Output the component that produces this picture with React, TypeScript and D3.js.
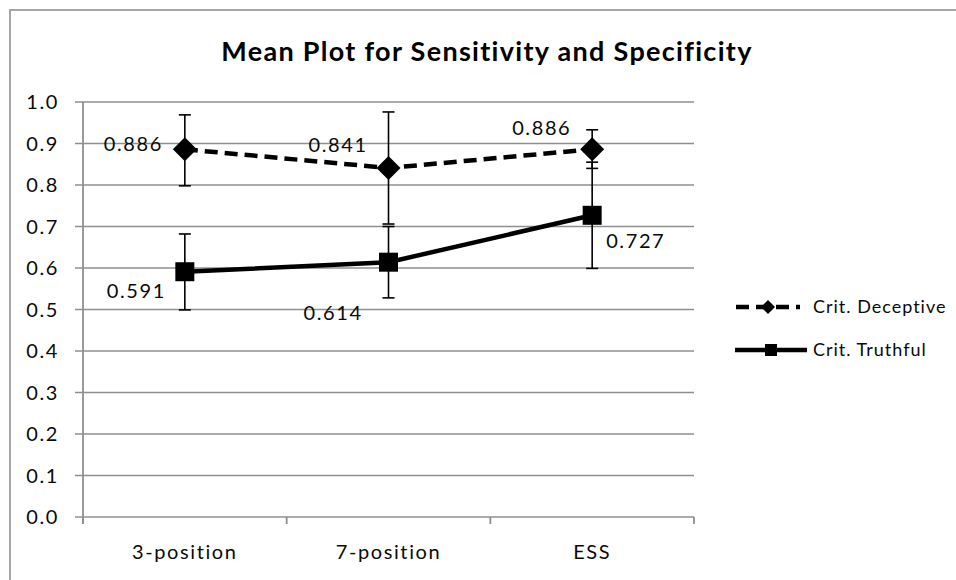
import React from "react";
import * as d3 from "d3";

const categories = ["3-position", "7-position", "ESS"];
const deceptiveMean = [0.886, 0.841, 0.886];
const deceptiveUpper = [0.969, 0.976, 0.933];
const deceptiveLower = [0.798, 0.706, 0.84];
const truthfulMean = [0.591, 0.614, 0.727];
const truthfulUpper = [0.682, 0.7, 0.855];
const truthfulLower = [0.499, 0.528, 0.599];
const yTicks = [0, 0.1, 0.2, 0.3, 0.4, 0.5, 0.6, 0.7, 0.8, 0.9, 1.0];
const seriesNames = ["Crit. Deceptive", "Crit. Truthful"];
const title = "Mean Plot for Sensitivity and Specificity";

// label offsets (layout only)
const deceptiveLabelOffset: [number, number][] = [[-81, 2], [-80, -16], [-80, -14]];
const truthfulLabelOffset: [number, number][] = [[-78, 26], [-85, 58], [14, 33]];

const W = 956;
const H = 580;
const plot = { left: 83, right: 694, top: 102, bottom: 517 };
const FONT = "Lato, 'Open Sans', sans-serif";

export default function App() {
  const x = d3
    .scaleBand<string>()
    .domain(categories)
    .range([plot.left, plot.right]);
  const y = d3.scaleLinear().domain([0, 1]).range([plot.bottom, plot.top]);
  const cx = (c: string) => (x(c) ?? 0) + x.bandwidth() / 2;

  const line = d3
    .line<number>()
    .x((_, i) => cx(categories[i]))
    .y((d) => y(d));

  const boundaries = [...categories.map((c) => x(c) ?? 0), plot.right];
  const gridColor = "#8f8f8f";
  const capHalf = 6;

  const diamond = (px: number, py: number, r: number) =>
    `M${px},${py - r}L${px + r},${py}L${px},${py + r}L${px - r},${py}Z`;

  const errorBars = (means: number[], up: number[], lo: number[], key: string) =>
    means.map((m, i) => {
      const px = cx(categories[i]);
      return (
        <g key={key + i} stroke="#000" strokeWidth={1.6}>
          <line x1={px} x2={px} y1={y(up[i])} y2={y(lo[i])} />
          <line x1={px - capHalf} x2={px + capHalf} y1={y(up[i])} y2={y(up[i])} />
          <line x1={px - capHalf} x2={px + capHalf} y1={y(lo[i])} y2={y(lo[i])} />
        </g>
      );
    });

  const labelStyle = { fontFamily: FONT, fontSize: 20, letterSpacing: 1.6, fill: "#0a0a0a" };

  return (
    <div style={{ position: "absolute", left: 0, top: 0 }}>
      <svg width={W} height={H} style={{ display: "block", background: "#fff" }}>
        <rect x={10} y={10} width={W + 10} height={H + 10} fill="#fff" stroke="#a6a6a6" strokeWidth={2} />
        <text
          x={487}
          y={61}
          textAnchor="middle"
          style={{ fontFamily: FONT, fontSize: 27, fontWeight: 700, letterSpacing: 1.3 }}
          fill="#000"
        >
          {title}
        </text>

        {/* gridlines */}
        {yTicks.map((t) => (
          <line
            key={"g" + t}
            x1={plot.left - 8}
            x2={plot.right}
            y1={y(t)}
            y2={y(t)}
            stroke={gridColor}
            strokeWidth={1.6}
          />
        ))}
        {/* y axis */}
        <line x1={plot.left} x2={plot.left} y1={plot.top} y2={plot.bottom + 7} stroke={gridColor} strokeWidth={1.8} />
        {/* x ticks */}
        {boundaries.map((b, i) => (
          <line key={"xt" + i} x1={b} x2={b} y1={plot.bottom} y2={plot.bottom + 7} stroke={gridColor} strokeWidth={1.8} />
        ))}
        {/* y tick labels */}
        {yTicks.map((t) => (
          <text key={"yl" + t} x={59} y={y(t) + 7} textAnchor="end" style={labelStyle}>
            {t.toFixed(1)}
          </text>
        ))}
        {/* x labels */}
        {categories.map((c) => (
          <text key={"xl" + c} x={cx(c)} y={559} textAnchor="middle" style={labelStyle}>
            {c}
          </text>
        ))}

        {/* error bars */}
        {errorBars(deceptiveMean, deceptiveUpper, deceptiveLower, "de")}
        {errorBars(truthfulMean, truthfulUpper, truthfulLower, "te")}

        {/* lines */}
        <path d={line(deceptiveMean) ?? ""} fill="none" stroke="#000" strokeWidth={4.5} strokeDasharray="13,7" />
        <path d={line(truthfulMean) ?? ""} fill="none" stroke="#000" strokeWidth={4.5} />

        {/* markers */}
        {deceptiveMean.map((m, i) => (
          <path key={"dm" + i} d={diamond(cx(categories[i]), y(m), 12)} fill="#000" />
        ))}
        {truthfulMean.map((m, i) => (
          <rect key={"tm" + i} x={cx(categories[i]) - 9.5} y={y(m) - 9.5} width={19} height={19} fill="#000" />
        ))}

        {/* data labels */}
        {deceptiveMean.map((m, i) => (
          <text
            key={"dl" + i}
            x={cx(categories[i]) + deceptiveLabelOffset[i][0]}
            y={y(m) + deceptiveLabelOffset[i][1]}
            style={labelStyle}
          >
            {m.toFixed(3)}
          </text>
        ))}
        {truthfulMean.map((m, i) => (
          <text
            key={"tl" + i}
            x={cx(categories[i]) + truthfulLabelOffset[i][0]}
            y={y(m) + truthfulLabelOffset[i][1]}
            style={labelStyle}
          >
            {m.toFixed(3)}
          </text>
        ))}

        {/* legend */}
        <g>
          <line x1={735} x2={800} y1={307} y2={307} stroke="#000" strokeWidth={4.5} strokeDasharray="13,7" strokeDashoffset={-1} />
          <path d={diamond(768, 307, 7)} fill="#000" />
          <text x={813} y={313} style={{ fontFamily: FONT, fontSize: 18, letterSpacing: 1, fill: "#0a0a0a" }}>
            {seriesNames[0]}
          </text>
          <line x1={735} x2={807} y1={350} y2={350} stroke="#000" strokeWidth={4.5} />
          <rect x={765} y={344} width={12} height={12} fill="#000" />
          <text x={813} y={356} style={{ fontFamily: FONT, fontSize: 18, letterSpacing: 1, fill: "#0a0a0a" }}>
            {seriesNames[1]}
          </text>
        </g>
      </svg>
    </div>
  );
}
